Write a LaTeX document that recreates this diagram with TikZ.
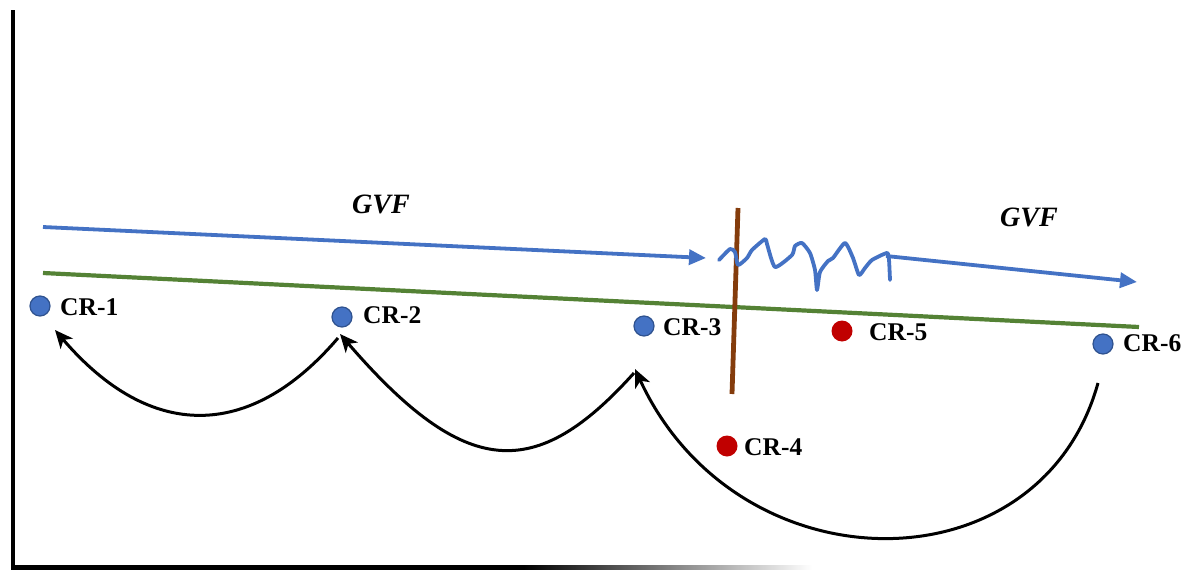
\documentclass[tikz,border=0pt]{standalone}
\usepackage{fontspec}
\setmainfont{Liberation Serif}
\usetikzlibrary{arrows.meta}
\definecolor{gvfblue}{HTML}{4472C4}
\definecolor{dotedge}{HTML}{2F528F}
\definecolor{bedgreen}{HTML}{548235}
\definecolor{faultbrown}{HTML}{843C0C}
\definecolor{crred}{HTML}{C00000}
% horizontal axis: solid black that fades out towards its right end
% (the path spans 25bp..75bp of the shading)
\pgfdeclarehorizontalshading{axisfade}{100bp}{color(0bp)=(black); color(25bp)=(black); color(57bp)=(black); color(75bp)=(white); color(100bp)=(white)}
\tikzset{
  bluedot/.style={circle, minimum size=20pt, inner sep=0pt, fill=gvfblue, draw=dotedge, line width=1.2pt},
  reddot/.style={circle, minimum size=21pt, inner sep=0pt, fill=crred},
  crlabel/.style={anchor=base west, inner sep=0pt, font=\fontsize{25.5}{25.5}\selectfont\bfseries},
  gvflabel/.style={inner sep=0pt, font=\fontsize{28}{28}\selectfont\bfseries\itshape},
  flow/.style={draw=gvfblue, line width=3.8pt, -{Triangle[length=17pt,width=15pt]}},
  jump/.style={draw=black, line width=3pt, -{Stealth[length=18pt,width=16pt,inset=5pt]}},
  axis/.style={draw=black, line width=4pt}
}
\begin{document}
\begin{tikzpicture}[x=1pt, y=-1pt]
\useasboundingbox (0,0) rectangle (1195,570);

% axes
\draw[axis] (13,10) -- (13,568);
\shade[shading=axisfade] (11,565) rectangle (812,569);

% bedding line
\coordinate (g0) at (43,273);
\coordinate (g1) at (1139,327);
\draw[bedgreen, line width=4.2pt] (g0) -- (g1);

% flow arrow before the fault
\coordinate (f0) at (43,227);
\coordinate (f1) at (706,258);
\draw[flow] (f0) -- (f1);

% fault
\coordinate (b0) at (738,208);
\coordinate (b1) at (732,394);
\draw[faultbrown, line width=4.8pt] (b0) -- (b1);

% disturbed flow across the fault
\draw[gvfblue, line width=3.8pt, line join=round, line cap=round]
  plot[smooth, tension=0.35] coordinates {
    (719,260) (730,249) (735,252) (738,265) (747,258) (752,250) (765,239)
    (767,244) (775,267) (792,255) (795,246) (802,243) (810,253) (815,270)
    (817,290) (820,272) (828,261) (833,258) (845,243) (853,258) (859,275)
    (865,268) (872,260) (887,253) (889,260) (890,280)};

% flow arrow after the fault
\coordinate (h0) at (886,256);
\coordinate (h1) at (1137,282);
\draw[flow] (h0) -- (h1);

% labels of the flow
\node[gvflabel] (gvf1) at (381,204) {GVF};
\node[gvflabel] (gvf2) at (1029,217) {GVF};

% points
\node[bluedot] (cr1) at (40,306) {};
\node[bluedot] (cr2) at (342,317) {};
\node[bluedot] (cr3) at (644,326) {};
\node[reddot]  (cr4) at (727,446) {};
\node[reddot]  (cr5) at (842,331) {};
\node[bluedot] (cr6) at (1103,344) {};

\node[crlabel] (l1) at (60,315) {CR-1};
\node[crlabel] (l2) at (363,323) {CR-2};
\node[crlabel] (l3) at (663,335) {CR-3};
\node[crlabel] (l4) at (744,455) {CR-4};
\node[crlabel] (l5) at (869,340) {CR-5};
\node[crlabel] (l6) at (1123,351) {CR-6};

% jumps between points
\coordinate (a1s) at (338,338);
\coordinate (a1e) at (55,330);
\coordinate (a2s) at (634,373);
\coordinate (a2e) at (340,334);
\coordinate (a3s) at (1098,383);
\coordinate (a3e) at (635,369);
\draw[jump] (a1s) .. controls (250,441) and (150,441) .. (a1e);
\draw[jump] (a2s) .. controls (536,482) and (466,480) .. (a2e);
\draw[jump] (a3s) .. controls (1040,592) and (737,590) .. (a3e);
\end{tikzpicture}
\end{document}
